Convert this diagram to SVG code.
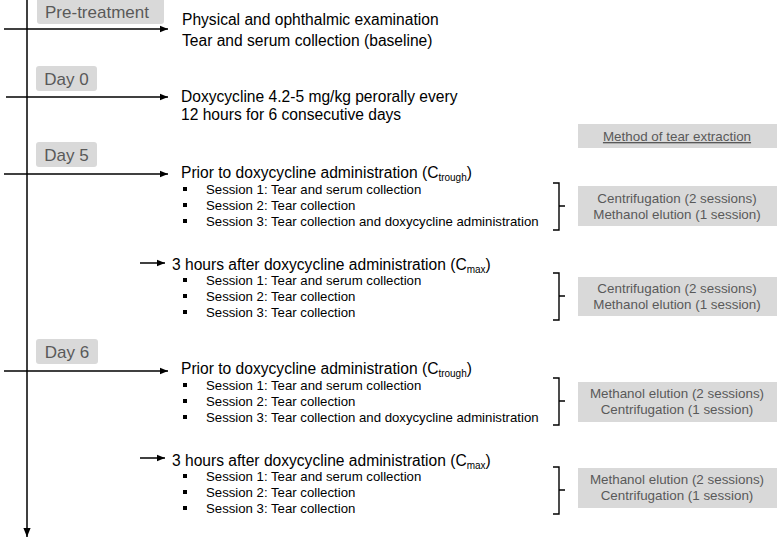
<svg xmlns="http://www.w3.org/2000/svg" width="777" height="540" viewBox="0 0 777 540">
<defs>
<marker id="ah" viewBox="0 0 10 10" refX="10" refY="5" markerWidth="8" markerHeight="8" markerUnits="userSpaceOnUse" orient="auto"><path d="M0,1 L10,5 L0,9 z" fill="#000"/></marker>
<marker id="ahb" viewBox="0 0 10 10" refX="10" refY="5" markerWidth="9" markerHeight="9" markerUnits="userSpaceOnUse" orient="auto"><path d="M0,1 L10,5 L0,9 z" fill="#000"/></marker>
</defs>
<style>
text{font-family:"Liberation Sans",Arial,sans-serif;}
.day{fill:#d9d9d9;}
.dt{font-size:17px;fill:#595959;}
.main{font-size:15.6px;fill:#000;}
.ses{font-size:13.2px;fill:#000;}
.box{fill:#d9d9d9;}
.bt{font-size:13.4px;fill:#595959;text-anchor:middle;}
.ln{stroke:#000;stroke-width:1.5;fill:none;}
.br{stroke:#000;stroke-width:1.4;fill:none;}
.bul{fill:#000;}
</style>
<g id="connectors">
<line class="ln" x1="27" y1="0" x2="27" y2="537" stroke-width="2.8" marker-end="url(#ahb)"/>
<line class="ln" x1="4" y1="29" x2="168" y2="29" marker-end="url(#ah)"/>
<line class="ln" x1="6" y1="97" x2="168" y2="97" marker-end="url(#ah)"/>
<line class="ln" x1="4" y1="174" x2="168" y2="174" marker-end="url(#ah)"/>
<line class="ln" x1="140" y1="263" x2="165" y2="263" marker-end="url(#ah)"/>
<line class="ln" x1="4" y1="371" x2="168" y2="371" marker-end="url(#ah)"/>
<line class="ln" x1="140" y1="458" x2="165" y2="458" marker-end="url(#ah)"/>
</g>
<g id="pretreatment">
<rect class="day" x="37" y="-4" width="127" height="28" rx="3"/>
<text class="dt" x="97" y="18" text-anchor="middle" font-size="18">Pre-treatment</text>
<text class="main" x="182" y="25">Physical and ophthalmic examination</text>
<text class="main" x="182" y="46">Tear and serum collection (baseline)</text>
</g>
<g id="day0">
<rect class="day" x="36" y="66" width="61" height="25" rx="3"/>
<text class="dt" x="66.5" y="85" text-anchor="middle">Day 0</text>
<text class="main" x="181" y="102">Doxycycline 4.2-5 mg/kg perorally every</text>
<text class="main" x="181" y="120">12 hours for 6 consecutive days</text>
</g>
<g id="method">
<rect class="box" x="578" y="124" width="199" height="24"/>
<text class="bt" x="677" y="141" text-decoration="underline">Method of tear extraction</text>
</g>
<g id="day5">
<rect class="day" x="36" y="142" width="61" height="25" rx="3"/>
<text class="dt" x="66.5" y="161" text-anchor="middle">Day 5</text>
<text class="main" x="181" y="178">Prior to doxycycline administration (C<tspan font-size="10" dy="3">trough</tspan><tspan dy="-3">)</tspan></text>
<rect class="bul" x="183" y="187" width="4" height="4"/>
<rect class="bul" x="183" y="203" width="4" height="4"/>
<rect class="bul" x="183" y="219" width="4" height="4"/>
<text class="ses" x="206" y="194">Session 1: Tear and serum collection</text>
<text class="ses" x="206" y="210">Session 2: Tear collection</text>
<text class="ses" x="206" y="226">Session 3: Tear collection and doxycycline administration</text>
</g>
<g id="day5-cmax">
<text class="main" x="172" y="270">3 hours after doxycycline administration (C<tspan font-size="10" dy="3">max</tspan><tspan dy="-3">)</tspan></text>
<rect class="bul" x="183" y="278" width="4" height="4"/>
<rect class="bul" x="183" y="294" width="4" height="4"/>
<rect class="bul" x="183" y="310" width="4" height="4"/>
<text class="ses" x="206" y="285">Session 1: Tear and serum collection</text>
<text class="ses" x="206" y="301">Session 2: Tear collection</text>
<text class="ses" x="206" y="317">Session 3: Tear collection</text>
</g>
<g id="day6">
<rect class="day" x="36" y="339" width="62" height="25" rx="3"/>
<text class="dt" x="67" y="358" text-anchor="middle">Day 6</text>
<text class="main" x="181" y="374">Prior to doxycycline administration (C<tspan font-size="10" dy="3">trough</tspan><tspan dy="-3">)</tspan></text>
<rect class="bul" x="183" y="383" width="4" height="4"/>
<rect class="bul" x="183" y="399" width="4" height="4"/>
<rect class="bul" x="183" y="415" width="4" height="4"/>
<text class="ses" x="206" y="390">Session 1: Tear and serum collection</text>
<text class="ses" x="206" y="406">Session 2: Tear collection</text>
<text class="ses" x="206" y="422">Session 3: Tear collection and doxycycline administration</text>
</g>
<g id="day6-cmax">
<text class="main" x="172" y="466">3 hours after doxycycline administration (C<tspan font-size="10" dy="3">max</tspan><tspan dy="-3">)</tspan></text>
<rect class="bul" x="183" y="474" width="4" height="4"/>
<rect class="bul" x="183" y="490" width="4" height="4"/>
<rect class="bul" x="183" y="506" width="4" height="4"/>
<text class="ses" x="206" y="481">Session 1: Tear and serum collection</text>
<text class="ses" x="206" y="497">Session 2: Tear collection</text>
<text class="ses" x="206" y="513">Session 3: Tear collection</text>
</g>
<g id="method1">
<path class="br" d="M553,183 H559 V230 H553 M559,206 H565"/>
<rect class="box" x="578" y="186" width="199" height="40"/>
<text class="bt" x="677" y="203">Centrifugation (2 sessions)</text>
<text class="bt" x="677" y="219">Methanol elution (1 session)</text>
</g>
<g id="method2">
<path class="br" d="M553,273 H559 V320 H553 M559,296 H565"/>
<rect class="box" x="578" y="277" width="199" height="39"/>
<text class="bt" x="677" y="293">Centrifugation (2 sessions)</text>
<text class="bt" x="677" y="309">Methanol elution (1 session)</text>
</g>
<g id="method3">
<path class="br" d="M553,378 H559 V425 H553 M559,401 H565"/>
<rect class="box" x="578" y="382" width="199" height="40"/>
<text class="bt" x="677" y="398">Methanol elution (2 sessions)</text>
<text class="bt" x="677" y="414">Centrifugation (1 session)</text>
</g>
<g id="method4">
<path class="br" d="M553,467 H559 V514 H553 M559,490 H565"/>
<rect class="box" x="578" y="468" width="199" height="40"/>
<text class="bt" x="677" y="484">Methanol elution (2 sessions)</text>
<text class="bt" x="677" y="500">Centrifugation (1 session)</text>
</g>
</svg>
